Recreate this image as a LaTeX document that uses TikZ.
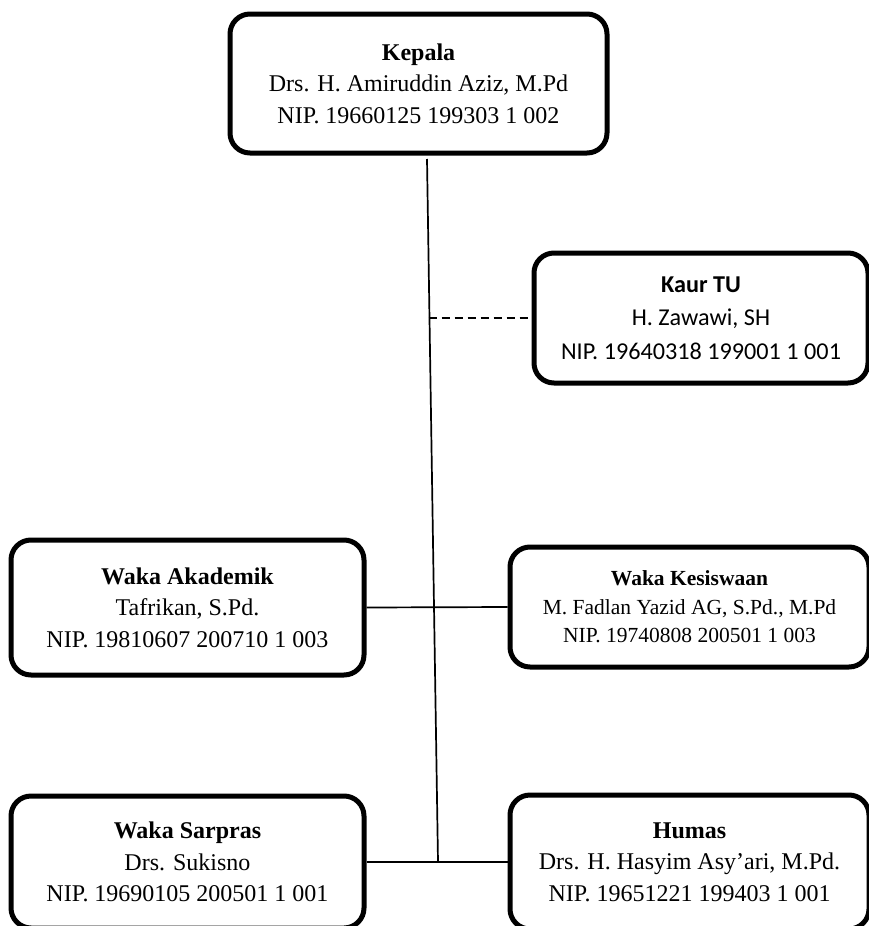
\documentclass[tikz,border=0pt]{standalone}
\usepackage{fontspec}
\setmainfont{Liberation Serif}
\newfontfamily\calib{Carlito}
\begin{document}
\begin{tikzpicture}[x=1pt,y=-1pt,
  unit/.style={draw, line width=5pt, rounded corners=20pt, inner sep=0pt,
    align=center, font=\fontsize{24}{31.5}\selectfont},
  link/.style={line width=1.7pt},
  staff/.style={link, dashed, dash pattern=on 8pt off 5pt}]
\clip (0,0) rectangle (869,926);
\fill[white] (0,0) rectangle (869,926);

% head of school
\node[unit, minimum width=377pt, minimum height=139pt] (kepala) at (418.5,83.5)
  {\textbf{Kepala}\\Drs. H. Amiruddin Aziz, M.Pd\\NIP. 19660125 199303 1 002};

% administration
\node[unit, minimum width=334pt, minimum height=130pt,
  font=\calib\fontsize{24.2}{33.5}\selectfont] (kaur) at (701,318)
  {\textbf{Kaur TU}\\H. Zawawi, SH\\NIP. 19640318 199001 1 001};

% vice heads
\node[unit, minimum width=353pt, minimum height=135pt] (akad) at (187.5,607.5)
  {\textbf{Waka Akademik}\\Tafrikan, S.Pd.\\NIP. 19810607 200710 1 003};
\node[unit, minimum width=359pt, minimum height=120pt,
  font=\fontsize{21.5}{28.5}\selectfont] (kes) at (689.5,607)
  {\textbf{Waka Kesiswaan}\\M. Fadlan Yazid AG, S.Pd., M.Pd\\NIP. 19740808 200501 1 003};
\node[unit, minimum width=353pt, minimum height=132pt] (sarpras) at (187.5,862)
  {\textbf{Waka Sarpras}\\Drs. Sukisno\\NIP. 19690105 200501 1 001};
\node[unit, minimum width=359pt, minimum height=134pt] (humas) at (689.5,862)
  {\textbf{Humas}\\Drs. H. Hasyim Asy'ari, M.Pd.\\NIP. 19651221 199403 1 001};

% main line of command
\coordinate (trunktop) at (427,159);
\coordinate (trunkbot) at (438,862);
\coordinate (tujoin) at (428.6,318);
\draw[link] (trunktop) -- (trunkbot);
\draw[staff] (tujoin) -- (kaur.west);
\draw[link] (akad.east) -- (kes.west);
\draw[link] (sarpras.east) -- (humas.west);
\end{tikzpicture}
\end{document}
